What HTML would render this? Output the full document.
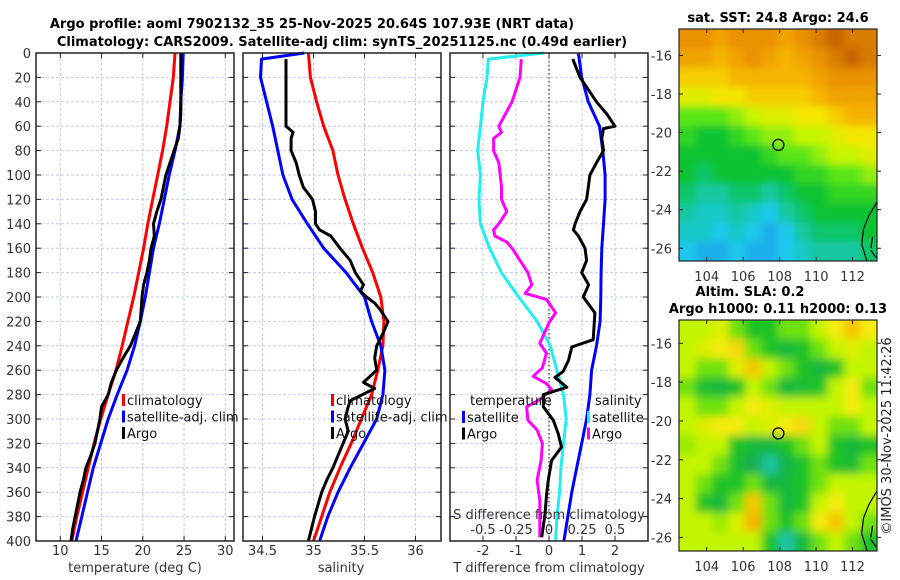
<!DOCTYPE html>
<html><head><meta charset="utf-8"><style>
body{margin:0;background:#fff;}
svg{display:block;font-family:"DejaVu Sans","Liberation Sans",sans-serif;}
.tk{font-size:13px;fill:#333;}
.tt{font-size:13px;font-weight:bold;fill:#000;}
.lg{font-size:13px;fill:#111;}
</style></head><body>
<svg id="c" width="900" height="580" viewBox="0 0 900 580">
<defs>
<filter id="bl" x="-10%" y="-10%" width="120%" height="120%"><feGaussianBlur stdDeviation="4.5"/></filter>
<filter id="bl2" x="-10%" y="-10%" width="120%" height="120%"><feGaussianBlur stdDeviation="4"/></filter>
<clipPath id="cm1"><rect x="679" y="29" width="198" height="232"/></clipPath>
<clipPath id="cm2"><rect x="679" y="320" width="198" height="231"/></clipPath>
</defs>
<text class="tt" x="312" y="28" text-anchor="middle">Argo profile: aoml 7902132_35 25-Nov-2025 20.64S 107.93E (NRT data)</text>
<text class="tt" x="342" y="46" text-anchor="middle">Climatology: CARS2009. Satellite-adj clim: synTS_20251125.nc (0.49d earlier)</text>
<text class="tt" x="778" y="22" text-anchor="middle">sat. SST: 24.8 Argo: 24.6</text>
<text class="tt" x="750" y="296" text-anchor="middle">Altim. SLA: 0.2</text>
<text class="tt" x="778" y="313" text-anchor="middle">Argo h1000: 0.11 h2000: 0.13</text>
<text x="893" y="436" font-size="13" fill="#222" text-anchor="middle" transform="rotate(-90 893 436)" dy="-2">©IMOS 30-Nov-2025 11:42:26</text>
<g id="g"></g>
</svg>
<script>
// ---- data ----
const depth20=[0,20,40,60,80,100,120,140,160,180,200,220,240,260,280,300,320,340,360,380,400];
const depth10=[0,10,20,30,40,50,60,70,80,90,100,110,120,130,140,150,160,170,180,190,200,210,220,230,240,250,260,270,280,290,300,310,320,330,340,350,360,370,380,390,400];
const tClim=[23.9,23.7,23.3,22.9,22.4,21.8,21.2,20.6,20.1,19.5,18.9,18.2,17.5,16.75,15.8,14.9,14.1,13.4,12.7,12.0,11.4];
const tSat=[24.9,24.8,24.6,24.5,23.9,23.2,22.6,22.0,21.3,20.8,20.3,19.7,19.0,18.1,16.9,15.8,14.9,14.0,13.3,12.6,11.9];
const tArgo=[24.6,24.6,24.6,24.6,24.6,24.6,24.5,24.3,23.8,23.3,22.8,22.5,22.2,21.7,21.3,21.4,21.0,20.8,20.5,20.1,19.9,19.8,19.7,19.1,18.5,17.6,16.8,16.2,15.8,15.0,14.8,14.5,14.2,13.7,13.1,12.8,12.4,12.1,11.8,11.5,11.3];
const sClim=[34.95,34.97,35.03,35.10,35.19,35.24,35.31,35.39,35.48,35.58,35.66,35.69,35.68,35.63,35.57,35.47,35.37,35.26,35.16,35.08,35.0];
const sSatDepth=[0,5,20,40,60,80,100,120,140,160,180,200,220,240,260,280,300,320,340,360,380,400];
const sSat=[34.91,34.49,34.48,34.54,34.60,34.65,34.70,34.79,34.94,35.10,35.32,35.50,35.57,35.66,35.70,35.68,35.62,35.49,35.36,35.24,35.14,35.06];
const sArgoDepth=[5,20,40,60,65,70,80,90,100,110,120,130,140,145,150,160,170,180,190,195,200,205,210,220,230,240,250,260,270,275,285,290,300,310,320,330,340,350,360,380,400];
const sArgo=[34.73,34.73,34.73,34.73,34.80,34.78,34.78,34.83,34.86,34.90,34.99,35.02,35.02,35.06,35.17,35.26,35.36,35.41,35.49,35.46,35.52,35.60,35.65,35.73,35.68,35.62,35.60,35.62,35.49,35.60,35.36,35.34,35.31,35.34,35.29,35.24,35.19,35.13,35.08,35.01,34.95];
const dSsat=[-0.04,-0.46,-0.47,-0.50,-0.52,-0.54,-0.52,-0.53,-0.52,-0.45,-0.36,-0.23,-0.09,0.01,0.06,0.11,0.13,0.11,0.09,0.08,0.06,0.05];
const dTsat=[0.89,0.99,1.19,1.53,1.63,1.70,1.70,1.65,1.60,1.58,1.57,1.55,1.44,1.29,1.24,1.14,0.99,0.84,0.69,0.57,0.45];
const dTargoDepth=[5,20,40,50,60,62,70,80,90,100,110,120,130,140,145,150,160,170,180,190,200,213,235,241,252,261,266,268,274,280,290,301,312,323,334,350,361,378,397];
const dTargo=[0.72,0.94,1.44,1.75,2.0,1.65,1.60,1.65,1.44,1.24,1.19,1.14,0.94,0.79,0.74,0.89,1.09,1.14,0.99,1.2,1.04,1.39,1.34,0.69,0.59,0.43,0.18,0.28,0.54,-0.17,-0.17,0.13,0.28,0.38,0.08,-0.02,-0.07,-0.12,-0.22];
const dSargoDepth=[5,20,40,50,60,65,70,80,90,100,110,120,130,140,145,150,155,160,170,180,190,197,202,213,221,238,246,258,265,271,276,284,290,301,309,320,334,350,367,383,397];
const dSargo=[-0.21,-0.22,-0.28,-0.33,-0.38,-0.36,-0.42,-0.42,-0.38,-0.37,-0.36,-0.36,-0.32,-0.38,-0.42,-0.41,-0.32,-0.28,-0.22,-0.16,-0.13,-0.18,-0.02,0.05,0.0,-0.07,-0.02,-0.05,-0.12,-0.02,0.02,-0.07,-0.17,-0.16,-0.09,-0.05,-0.06,-0.09,-0.07,-0.07,-0.07];
const tTicks=[10,15,20,25,30];
const sTicks=[34.5,35,35.5,36];
const dTTicks=[-2,-1,0,1,2];
const dSTicks=["-0.5","-0.25","0","0.25","0.5"];
const depthTicks=[0,20,40,60,80,100,120,140,160,180,200,220,240,260,280,300,320,340,360,380,400];
const lonTicks=[104,106,108,110,112];
const latTicks=[-16,-18,-20,-22,-24,-26];
const sstGrid=[
[9,9,8.5,9,9,9,8.5,9,9.5,10,9.5,9.5],
[8.5,8.5,8,8.5,9,8.5,8,8.5,9,9.5,10,9.5],
[7.5,7.5,7.5,8,8,8,8,8,8.5,9,9,9],
[6.5,6.5,7,7,7.5,7.5,7.5,7.5,8,8.5,8.5,8.5],
[5,5,5,5.5,6,6.5,6.5,7,7,7.5,8,8],
[4.5,4,4,4.5,5,5.5,5.5,6,6,6.5,7,7],
[4,4,4,4,4,4.5,5,5,5.5,6,6,6.5],
[4,3.5,4,4,4,4,4,4.5,4.5,5,5,5.5],
[3.5,3,3,3.5,3.5,3,3.5,4,4,4.5,4.5,4.5],
[3,2.5,2.5,3,2.5,2,3,3.5,4,4,4,4],
[2.5,2.5,2,2.5,2,1.5,2,3,3.5,3.5,3.5,4],
[2,1.5,1.5,2,1.5,1.5,2,2.5,3,3,3,3.5]];
const slaGrid=[
[6,6,6.5,5,4,4,5,5,6,7,8,7],
[6,6.5,7,7.5,5,4,3,4,5,6,6.5,6],
[6,5,5,6.5,8,6,5,4,3,4,6,6],
[5,3.5,3,4,6,5,3,3.5,4,6,7,5],
[6,5,5,6,7,6.5,6,6,6,6,7,6],
[6,6.5,7,7,6,6.5,7,7.5,6,5,5,6],
[5.5,6,6,4,3,3,4,5,6,4,3,4],
[6,6,5,3.5,2,1,2.5,4,5,4,3.5,5],
[6,5,4,4,5,3,3,4,5,6,6,6],
[6,4,3,5,8,5,3,4,6,7,6,6],
[6,6,5.5,6.5,8.5,5,4,5,7,8,6,5],
[6,6,6,6,6,4,1,3,5,6,5,4]];
const argoLon=107.93, argoLat=-20.64;

// ---- helpers ----
const NS='http://www.w3.org/2000/svg';
const G=document.getElementById('g');
function mk(tag,attrs,parent){const e=document.createElementNS(NS,tag);for(const k in attrs)e.setAttribute(k,attrs[k]);(parent||G).appendChild(e);return e;}
const Y0=53,Y1=541;
const yD=d=>Y0+(Y1-Y0)*d/400;
function lin(d0,d1,r0,r1){return v=>r0+(v-d0)*(r1-r0)/(d1-d0);}
const xT=lin(10,30,60.3,225.3);
const xS=lin(34.5,36,262.5,415.5);
const xdT=lin(0,1,549,582);
const xdS=lin(0,0.25,549,582);

function panel(x0,x1,name,vticks,vx){
  const g=mk('g',{});
  
  
  mk('rect',{x:x0,y:Y0,width:x1-x0,height:Y1-Y0,fill:'#fff'},g);
  depthTicks.forEach(d=>{ if(d>0&&d<400) mk('line',{x1:x0,x2:x1,y1:yD(d),y2:yD(d),stroke:'#c5cbe6','stroke-dasharray':'3,2','stroke-width':1},g);});
  vticks.forEach(v=>{const x=vx(v); if(x>x0&&x<x1) mk('line',{x1:x,x2:x,y1:Y0,y2:Y1,stroke:'#c5cbe6','stroke-dasharray':'3,2','stroke-width':1},g);});
  depthTicks.forEach(d=>{mk('line',{x1:x0,x2:x0+5,y1:yD(d),y2:yD(d),stroke:'#222'},g);mk('line',{x1:x1-5,x2:x1,y1:yD(d),y2:yD(d),stroke:'#222'},g);});
  vticks.forEach(v=>{const x=vx(v);mk('line',{x1:x,x2:x,y1:Y1,y2:Y1-5,stroke:'#222'},g);mk('line',{x1:x,x2:x,y1:Y0,y2:Y0+5,stroke:'#222'},g);});
  return g;
}
function frame(x0,x1,g){mk('rect',{x:x0,y:Y0,width:x1-x0,height:Y1-Y0,fill:'none',stroke:'#222','stroke-width':1.5},g);}
function line(vals,depths,xf,color,name,g,w){
  const p=vals.map((v,i)=>(i?'L':'M')+xf(v).toFixed(1)+','+yD(depths[i]).toFixed(1)).join('');
  const e=mk('path',{d:p,fill:'none',stroke:color,'stroke-width':w||3,'stroke-linejoin':'round'},g);
  
  
}
function txt(s,x,y,cls,anchor,g){const e=mk('text',{x:x,y:y,class:cls,'text-anchor':anchor||'middle'},g);e.textContent=s;return e;}

depthTicks.forEach(d=>{const e=txt(String(d),31,yD(d)+5,'tk','end');});

const p1=panel(36,234,'temperature-panel',tTicks,xT);
line(tClim,depth20,xT,'#f00','temp-climatology-line',p1);
line(tSat,depth20,xT,'#00f','temp-satellite-line',p1);
line(tArgo,depth10,xT,'#000','temp-argo-line',p1);
frame(36,234,p1);
tTicks.forEach(v=>txt(String(v),xT(v),555,'tk','middle',p1));
txt('temperature (deg C)',135,572,'tk','middle',p1);
function legend(x,g,labels,colors,y0){
  labels.forEach((l,i)=>{const y=(y0||403)+i*16.5;
    const r=mk('rect',{x:x,y:y-9,width:3,height:12,fill:colors[i]},g);
    
    const t=txt(l,x+5,y+2,'lg','start',g);});
}
legend(122,p1,['climatology','satellite-adj. clim','Argo'],['#f00','#00f','#000']);

const p2=panel(243,441,'salinity-panel',sTicks,xS);
line(sClim,depth20,xS,'#f00','sal-climatology-line',p2);
line(sSat,sSatDepth,xS,'#00f','sal-satellite-line',p2);
line(sArgo,sArgoDepth,xS,'#000','sal-argo-line',p2);
frame(243,441,p2);
sTicks.forEach(v=>txt(String(v),xS(v),555,'tk','middle',p2));
txt('salinity',341,572,'tk','middle',p2);
legend(331,p2,['climatology','satellite-adj. clim','Argo'],['#f00','#00f','#000']);

const p3=panel(450,648,'difference-panel',dTTicks,xdT);
mk('line',{x1:549,x2:549,y1:Y0,y2:Y1,stroke:'#333','stroke-dasharray':'1.5,2.5','stroke-width':1.2},p3);
line(dSsat,sSatDepth,xdS,'#22eeee','sal-diff-satellite-line',p3);
line(dTsat,depth20,xdT,'#00f','temp-diff-satellite-line',p3);
line(dSargo,dSargoDepth,xdS,'#f0f','sal-diff-argo-line',p3);
line(dTargo,dTargoDepth,xdT,'#000','temp-diff-argo-line',p3);
frame(450,648,p3);
dTTicks.forEach(v=>txt(String(v),xdT(v),555,'tk','middle',p3));
txt('T difference from climatology',549,572,'tk','middle',p3);
txt('S difference from climatology',549,519,'tk','middle',p3);
dSTicks.forEach(v=>txt(v,xdS(parseFloat(v)),534,'tk','middle',p3));
txt('temperature',470,405,'lg','start',p3);
txt('salinity',595,405,'lg','start',p3);
legend(462,p3,['satellite','Argo'],['#00f','#000'],420);
legend(587,p3,['satellite','Argo'],['#22eeee','#f0f'],420);

function cmapSST(v){const st=[[0,[30,100,230]],[2,[30,200,235]],[3,[20,200,160]],[4,[10,195,50]],[5,[90,230,20]],[6,[200,245,0]],[7,[245,230,0]],[8,[245,180,0]],[9,[235,145,0]],[10,[200,100,0]]];return interp(st,v);}
function cmapSLA(v){const st=[[0,[40,225,235]],[1,[30,195,160]],[2,[20,175,80]],[4,[30,195,40]],[5,[110,225,10]],[6,[195,245,0]],[7,[245,235,10]],[9,[245,160,0]]];return interp(st,v);}
function interp(st,v){for(let i=1;i<st.length;i++){if(v<=st[i][0]){const a=st[i-1],b=st[i],t=(v-a[0])/(b[0]-a[0]);return 'rgb('+a[1].map((c,k)=>Math.round(c+(b[1][k]-c)*t)).join(',')+')';}}return 'rgb('+st[st.length-1][1].join(',')+')';}
function map(name,x0,y0,w,h,latTop,latBot,grid,cmap,clip,filt){
  const lonL=102.48,lonR=113.34;
  const xL=lin(lonL,lonR,x0,x0+w), yL=lin(latTop,latBot,y0,y0+h);
  const g=mk('g',{});
  
  
  const cg=mk('g',{'clip-path':'url(#'+clip+')'},g);
  const ig=mk('g',{filter:'url(#'+filt+')'},cg);
  const rows=grid.length,cols=grid[0].length,cw=w/cols,ch=h/rows;
  mk('rect',{x:x0-20,y:y0-20,width:w+40,height:h+40,fill:cmap(6)},ig);
  grid.forEach((r,i)=>r.forEach((v,j)=>{
    const c=mk('rect',{x:x0+j*cw-(j==0?20:0),y:y0+i*ch-(i==0?20:0),width:cw+1+(j==0||j==cols-1?20:0),height:ch+1+(i==0||i==rows-1?20:0),fill:cmap(v)},ig);
    
    
  }));
  mk('path',{d:`M${x0+w},${yL(-23.6)} L${xL(112.9)},${yL(-24.3)} L${xL(112.6)},${yL(-25.0)} L${xL(112.5)},${yL(-25.8)} L${xL(112.8)},${yL(-26.7)}`,fill:'none',stroke:'#000','stroke-width':1.2},cg);
  mk('path',{d:`M${xL(113.1)},${yL(-25.4)} L${xL(113.0)},${yL(-26.0)} M${xL(113.0)},${yL(-26.1)} L${xL(113.3)},${yL(-26.5)}`,fill:'none',stroke:'#000','stroke-width':1.2},cg);
  const ci=mk('circle',{cx:xL(argoLon),cy:yL(argoLat),r:5.5,fill:'none',stroke:'#000','stroke-width':1.3},g);
  
  mk('rect',{x:x0,y:y0,width:w,height:h,fill:'none',stroke:'#222','stroke-width':1.2},g);
  lonTicks.forEach(v=>{const x=xL(v);mk('line',{x1:x,x2:x,y1:y0,y2:y0+4,stroke:'#222'},g);mk('line',{x1:x,x2:x,y1:y0+h,y2:y0+h-4,stroke:'#222'},g);txt(String(v),x,y0+h+20,'tk','middle',g);});
  latTicks.forEach(v=>{const y=yL(v);mk('line',{x1:x0,x2:x0+4,y1:y,y2:y,stroke:'#222'},g);mk('line',{x1:x0+w,x2:x0+w+4,y1:y,y2:y,stroke:'#222'},g);txt(String(v),x0-7,y+5,'tk','end',g);});
}
map('sst-map',679,29,198,232,-14.63,-26.66,sstGrid,cmapSST,'cm1','bl2');
map('sla-map',679,320,198,231,-14.8,-26.7,slaGrid,cmapSLA,'cm2','bl');
</script>
</body></html>
